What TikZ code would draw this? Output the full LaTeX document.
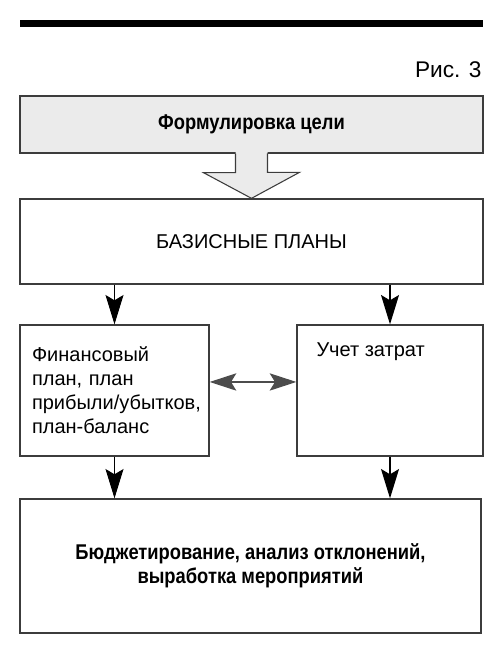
\documentclass[tikz,border=0pt]{standalone}
\usepackage{fontspec}
\setmainfont{Liberation Sans}[BoldFeatures={FakeStretch=0.86}]
\usetikzlibrary{arrows.meta,positioning}

\definecolor{goalgray}{RGB}{235,235,235}
\definecolor{edgegray}{RGB}{60,60,60}

\tikzset{every picture/.style={line width=0.75pt}}
\tikzset{
	box/.style={draw=edgegray, line width=1pt, inner sep=0pt},
	txt/.style={font=\fontsize{15}{18}\selectfont},
	bold/.style={font=\fontsize{16}{18}\selectfont\bfseries},
	arr/.style={-{Stealth[length=22pt,width=13.5pt,inset=4pt]}, line width=0.8pt},
	dblarr/.style={{Stealth[length=20pt,width=13pt,inset=4pt]}-{Stealth[length=20pt,width=13pt,inset=4pt]}, line width=0.8pt, draw=black!70}
}

\begin{document}
\begin{tikzpicture}[x=0.75pt,y=0.75pt,yscale=-1,xscale=1]
	\useasboundingbox (0,0) rectangle (500,648);
	
	%Top rule
	\fill (20,20) rectangle (483,27);
	% Figure number
	\node [font=\fontsize{17}{20}\selectfont, anchor=east, inner sep=0pt] (fig) at (482,70) {Рис. 3};
	
	%Boxes
	\node [box, fill=goalgray, minimum width=347.25pt, minimum height=42.75pt, bold] (goal) at (251.5,124.5) {Формулировка цели};
	\node [box, minimum width=347.25pt, minimum height=63.75pt, txt] (basis) at (251.5,241.5) {БАЗИСНЫЕ ПЛАНЫ};
	\node [box, minimum width=141.75pt, minimum height=98.25pt, text width=123.75pt, inner xsep=9pt, align=left, txt] (fin) at (114.5,390.5) {Финансовый\\план, план\\прибыли/убытков,\\план-баланс};
	\node [box, minimum width=139.5pt, minimum height=98.25pt] (cost) at (390,390.5) {};
	\node [txt, anchor=west, inner sep=0pt] (costtext) at (316,352) {Учет затрат};
	\node [box, minimum width=345.75pt, minimum height=100.5pt, align=center, bold] (budget) at (250.5,566) {Бюджетирование, анализ отклонений,\\выработка мероприятий};
	
	%Hollow arrow
	\fill [goalgray] (goal.south) ++(-16,-2) -- ++(0,21) -- ++(-32,0) -- (basis.north) -- ++(48,-26) -- ++(-32,0) -- ++(0,-21) -- cycle;
	\draw [edgegray, line width=0.8pt] (goal.south) ++(-16,0) -- ++(0,19) -- ++(-32,0) -- (basis.north) -- ++(48,-26) -- ++(-32,0) -- ++(0,-19);
	
	%Arrows
	\draw [arr] (basis.south -| fin.north) -- (fin.north);
	\draw [arr] (basis.south -| cost.north) -- (cost.north);
	\draw [dblarr] ([yshift=-6.4pt]fin.east) -- ([yshift=-6.4pt]cost.west);
	\draw [arr] (fin.south) -- (fin.south |- budget.north);
	\draw [arr] (cost.south) -- (cost.south |- budget.north);
	
\end{tikzpicture}
\end{document}
